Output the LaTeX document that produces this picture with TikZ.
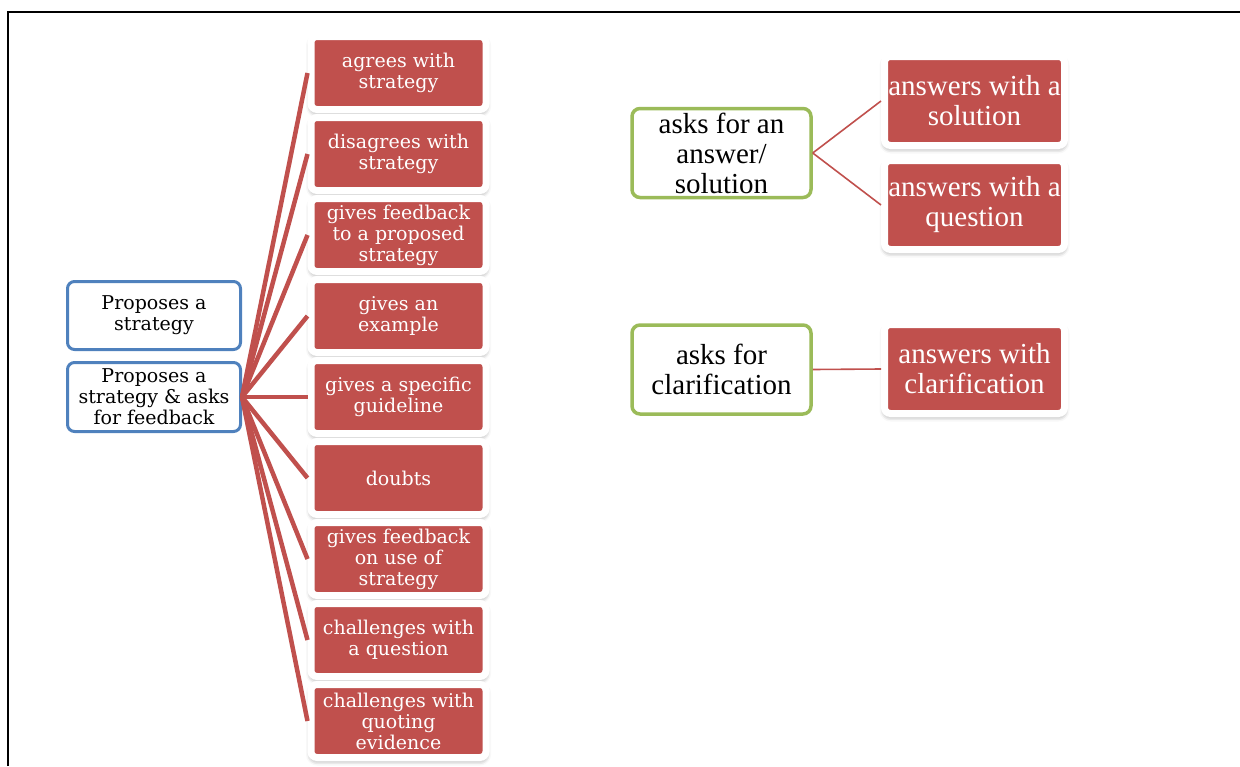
\documentclass[tikz,border=0pt]{standalone}
\usepackage{fontspec}
\setmainfont{DejaVu Serif}
\newfontfamily\answerfont{Liberation Serif}
\usetikzlibrary{shadows.blur}
\definecolor{leafred}{HTML}{C0504D}
\definecolor{moveblue}{HTML}{4F81BD}
\definecolor{askgreen}{HTML}{9BBB59}
\tikzset{
  leaf/.style={fill=leafred, draw=white, line width=7pt, rounded corners=6pt, inner sep=0pt,
    text=white, align=center,
    blur shadow={shadow xshift=0pt, shadow yshift=-3pt, shadow blur radius=5pt, shadow opacity=45}},
  smallleaf/.style={leaf, minimum width=175pt, minimum height=73pt, font=\fontsize{19}{21}\selectfont},
  bigleaf/.style={leaf, minimum width=180pt, minimum height=89pt, font=\answerfont\fontsize{29}{30}\selectfont},
  move/.style={draw=moveblue, line width=3pt, rounded corners=7pt, fill=white, minimum width=173pt,
    inner sep=0pt, align=center, font=\fontsize{19}{21}\selectfont},
  ask/.style={draw=askgreen, line width=3.5pt, rounded corners=8pt, fill=white, minimum width=179pt,
    minimum height=89pt, inner sep=0pt, align=center, font=\answerfont\fontsize{29}{30}\selectfont},
  leafline/.style={leafred, line width=4.5pt},
  answerline/.style={leafred, line width=1.6pt},
}
\begin{document}
\begin{tikzpicture}[x=1pt, y=-1pt]
	\useasboundingbox (0,0) rectangle (1240,766);
	\draw[line width=2pt] (8,766) -- (8,12) -- (1240,12);
	
	% strategy moves
	\node[move, minimum height=68pt] (propose) at (154,315.5) {Proposes a\\strategy};
	\node[move, minimum height=69pt] (proposeask) at (154,397) {Proposes a\\strategy \& asks\\for feedback};
	
	\node[smallleaf] (agree) at (398.5,73) {agrees with\\strategy};
	\node[smallleaf] (disagree) at (398.5,154) {disagrees with\\strategy};
	\node[smallleaf] (feedback) at (398.5,235) {gives feedback\\to a proposed\\strategy};
	\node[smallleaf] (example) at (398.5,316) {gives an\\example};
	\node[smallleaf] (guideline) at (398.5,397) {gives a specific\\guideline};
	\node[smallleaf] (doubts) at (398.5,478) {doubts};
	\node[smallleaf] (usefeedback) at (398.5,559) {gives feedback\\on use of\\strategy};
	\node[smallleaf] (question) at (398.5,640) {challenges with\\a question};
	\node[smallleaf] (evidence) at (398.5,721) {challenges with\\quoting\\evidence};
	
	\foreach \leaf in {agree,disagree,feedback,example,guideline,doubts,usefeedback,question,evidence}
		\draw[leafline] (proposeask.east) -- (\leaf.west);
	
	% asking moves
	\node[ask] (askanswer) at (721.5,153) {asks for an\\answer/\\solution};
	\node[ask] (askclar) at (721.5,369.5) {asks for\\clarification};
	
	\node[bigleaf] (solution) at (974.5,101) {answers with a\\solution};
	\node[bigleaf] (answerq) at (974.5,205) {answers with a\\question};
	\node[bigleaf] (clarification) at (974.5,369) {answers with\\clarification};
	
	\draw[answerline] (askanswer.east) -- (solution.west);
	\draw[answerline] (askanswer.east) -- (answerq.west);
	\draw[answerline] (askclar.east) -- (clarification.west);
	
\end{tikzpicture}
\end{document}
